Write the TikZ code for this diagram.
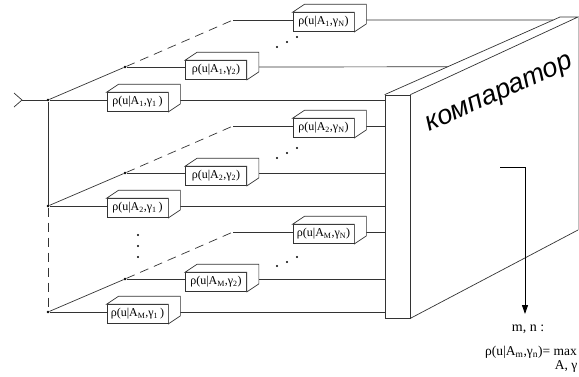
\documentclass[tikz,border=0pt]{standalone}
\usepackage{fontspec}
\setmainfont{Liberation Serif}
\newfontfamily\kompfont{Liberation Sans}
\usetikzlibrary{arrows.meta, calc}

\begin{document}
\begin{tikzpicture}[x=1pt, y=-1pt,
  wire/.style={line width=0.7pt, draw=black!80},
  gap/.style={wire, dash pattern=on 9pt off 6pt},
  prism/.style={draw=black!80, line width=0.7pt, fill=white,
                minimum width=61pt, minimum height=19pt, inner sep=0pt,
                font=\fontsize{12}{12}\selectfont},
  knot/.style={circle, fill=black, inner sep=0pt, minimum size=2.6pt},
  tip/.style={-{Triangle[length=9pt, width=6pt]}, line width=0.9pt},
]
\useasboundingbox (0,0) rectangle (579,376);

% comparator slab
\node[draw=black!80, line width=0.7pt, minimum width=25pt, minimum height=223pt] (komp) at (397.5,206.5) {};
\coordinate (tl) at (560,17);
\coordinate (tr) at (578,17);
\coordinate (br) at (578,230);
\draw[wire] (komp.north west) -- (tl) -- (tr) -- (komp.north east);
\draw[wire] (komp.south east) -- (br);
\draw[black!25, line width=0.5pt] (tr) -- (br);
\node[font=\kompfont\itshape\fontsize{27}{27}\selectfont, rotate=24, inner sep=0pt] (name) at (500,95) {компаратор};

% input
\coordinate (in) at (22,100);
\node[knot] (j1) at (48,100) {};
\node[knot] (j2) at (48,206) {};
\node[knot] (jm) at (48,312) {};
\draw[wire] (in) ++(-8,-7) -- (in) -- ++(-8,7);
\draw[wire] (in) -- (j1);
\draw[wire] (j1) -- (j2);
\draw[gap] (j2) -- (jm);

% group A1
\node[knot] (d1) at (125,67) {};
\coordinate (e1) at (233,20);
\node[prism] (b11) at (137.5,102) {ρ(u|A\textsubscript{1},γ\textsubscript{1}\,)};
\node[prism] (b12) at (216,70) {ρ(u|A\textsubscript{1},γ\textsubscript{2})};
\node[prism] (b1n) at (323.5,22) {ρ(u|A\textsubscript{1},γ\textsubscript{N})};
\draw[wire] (j1) -- (d1);
\draw[gap] (d1) -- (e1);
\draw[wire] (j1) -- (b11.west |- j1);
\draw[wire] ([xshift=6pt]b11.east |- j1) -- (komp.west |- j1);
\draw[wire] (d1) -- (b12.west |- d1);
\draw[wire] ([xshift=6pt]b12.east |- d1) -- ($(komp.north west)!0.359!(tl)$);
\draw[wire] (e1) -- (b1n.west |- e1);
\draw[wire] ([xshift=6pt]b1n.east |- e1) -- ($(komp.north west)!0.9615!(tl)$);

% group A2
\node[knot] (d2) at (125,173) {};
\coordinate (e2) at (233,126);
\node[prism] (b21) at (137.5,208) {ρ(u|A\textsubscript{2},γ\textsubscript{1}\,)};
\node[prism] (b22) at (216,176) {ρ(u|A\textsubscript{2},γ\textsubscript{2})};
\node[prism] (b2n) at (323.5,128) {ρ(u|A\textsubscript{2},γ\textsubscript{N})};
\draw[wire] (j2) -- (d2);
\draw[gap] (d2) -- (e2);
\draw[wire] (j2) -- (b21.west |- j2);
\draw[wire] ([xshift=6pt]b21.east |- j2) -- (komp.west |- j2);
\draw[wire] (d2) -- (b22.west |- d2);
\draw[wire] ([xshift=6pt]b22.east |- d2) -- (komp.west |- d2);
\draw[wire] (e2) -- (b2n.west |- e2);
\draw[wire] ([xshift=6pt]b2n.east |- e2) -- (komp.west |- e2);

% group AM
\node[knot] (dm) at (125,279) {};
\coordinate (em) at (233,232);
\node[prism] (bm1) at (137.5,314) {ρ(u|A\textsubscript{M},γ\textsubscript{1}\,)};
\node[prism] (bm2) at (216,282) {ρ(u|A\textsubscript{M},γ\textsubscript{2})};
\node[prism] (bmn) at (323.5,234) {ρ(u|A\textsubscript{M},γ\textsubscript{N})};
\draw[wire] (jm) -- (dm);
\draw[gap] (dm) -- (em);
\draw[wire] (jm) -- (bm1.west |- jm);
\draw[wire] ([xshift=6pt]bm1.east |- jm) -- (komp.west |- jm);
\draw[wire] (dm) -- (bm2.west |- dm);
\draw[wire] ([xshift=6pt]bm2.east |- dm) -- (komp.west |- dm);
\draw[wire] (em) -- (bmn.west |- em);
\draw[wire] ([xshift=6pt]bmn.east |- em) -- (komp.west |- em);

% 3d faces of the blocks
\foreach \b in {b11,b12,b1n,b21,b22,b2n,bm1,bm2,bmn}
  \draw[wire, fill=white] (\b.north west) -- ++(12,-8) -- ([shift={(12,-8)}]\b.north east)
    -- ([shift={(12,-8)}]\b.south east) -- (\b.south east) -- (\b.north east) -- cycle;

% dots
\foreach \p in {(277,47),(287,42),(297,37),(277,158),(287,153),(297,148),
                (277,266),(287,262),(297,257),(138,235),(138,246),(138,257)}
  \fill \p circle (1.2);

% result
\coordinate (a0) at (500,167);
\coordinate (a1) at (525,167);
\coordinate (a2) at (525,314);
\draw[tip] (a0) -- (a1) -- (a2);
\node[font=\fontsize{14}{14}\selectfont] (mn) at (528,329) {m, n :};
\node[font=\fontsize{13.5}{13.5}\selectfont, anchor=east, inner sep=1pt] (rho) at (578,352) {ρ(u|A\textsubscript{m},γ\textsubscript{n})= max};
\node[font=\fontsize{13.5}{13.5}\selectfont, anchor=north, inner sep=1pt] (ag) at ([xshift=-12pt]rho.south east) {A, γ};
\end{tikzpicture}
\end{document}
